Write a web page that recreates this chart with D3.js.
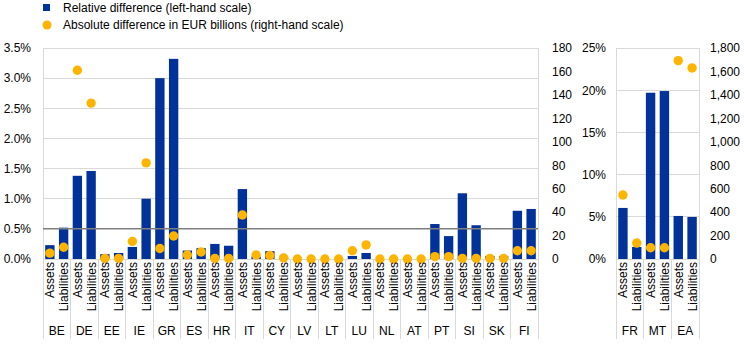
<!DOCTYPE html>
<html>
<head>
<meta charset="utf-8">
<script src="https://cdn.jsdelivr.net/npm/d3@7"></script>
<style>
  body { margin: 0; background: #fff; }
  svg { display: block; font-family: "Liberation Sans", Arial, sans-serif; }
</style>
</head>
<body>
<svg id="chart" width="744" height="360"></svg>
<script>
// ---- Data ----
const subCategories = ["Assets", "Liabilities"];

const countriesLeft = ["BE","DE","EE","IE","GR","ES","HR","IT","CY","LV","LT","LU","NL","AT","PT","SI","SK","FI"];
const relAssetsLeft = [0.23, 1.38, 0.08, 0.20, 3.00, 0.14, 0.25, 1.16, 0.13, 0.00, 0.00, 0.05, 0.00, 0.00, 0.58, 1.09, 0.05, 0.80];
const relLiabLeft   = [0.52, 1.46, 0.10, 1.00, 3.32, 0.18, 0.22, 0.04, 0.02, 0.00, 0.00, 0.10, 0.00, 0.00, 0.38, 0.56, 0.05, 0.83];
const absAssetsLeft = [5, 161, 0.5, 15, 9, 3.4, 0.5, 37.5, 3, 0, 0, 7, 0, 0, 2, 0.5, 0.5, 7];
const absLiabLeft   = [10, 133, 0.5, 82, 19.6, 6, 0.5, 3.4, 1, 0, 0, 12, 0, 0, 2, 0.5, 0.5, 7];

const countriesRight = ["FR","MT","EA"];
const relAssetsRight = [6.05, 19.7, 5.1];
const relLiabRight   = [1.42, 19.9, 4.98];
const absAssetsRight = [546, 96, 1692];
const absLiabRight   = [136, 96, 1630];

const leftTicksRel  = [0, 0.5, 1.0, 1.5, 2.0, 2.5, 3.0, 3.5];
const leftTicksAbs  = [0, 20, 40, 60, 80, 100, 120, 140, 160, 180];
const rightTicksRel = [0, 5, 10, 15, 20, 25];
const rightTicksAbs = [0, 200, 400, 600, 800, 1000, 1200, 1400, 1600, 1800];
const thresholdRel = 0.5;

const legendItems = ["Relative difference (left-hand scale)", "Absolute difference in EUR billions (right-hand scale)"];

// ---- Styles ----
const BLUE = "#003299", YELLOW = "#FFB400", GRID = "#d9d9d9", TEXT = "#000";
const svg = d3.select("#chart");
const yTop = 48, yBottom = 259, yLabelBottom = 339;

function panel(opts) {
  const { x0, x1, countries, relA, relL, absA, absL, relMax, absMax, relTicks, absTicks,
          relFmt, absFmt, leftLabelX, rightLabelX, threshold } = opts;
  const g = svg.append("g");
  const x = d3.scaleBand().domain(countries).range([x0, x1]).padding(0);
  const xs = d3.scaleBand().domain(subCategories).range([0, x.bandwidth()]).paddingInner(0.32).paddingOuter(0.16);
  const yRel = d3.scaleLinear().domain([0, relMax]).range([yBottom, yTop]);
  const yAbs = d3.scaleLinear().domain([0, absMax]).range([yBottom, yTop]);

  // gridlines
  g.append("g").selectAll("line").data(relTicks).join("line")
    .attr("x1", x0).attr("x2", x1)
    .attr("y1", d => yRel(d)).attr("y2", d => yRel(d))
    .attr("stroke", GRID).attr("stroke-width", 1).attr("shape-rendering", "crispEdges");

  // vertical borders & separators
  const bounds = countries.map(c => x(c)).concat([x1]);
  g.append("g").selectAll("line").data(bounds).join("line")
    .attr("x1", d => d).attr("x2", d => d)
    .attr("y1", (d, i) => (i === 0 || i === bounds.length - 1) ? yTop : yBottom)
    .attr("y2", yLabelBottom)
    .attr("stroke", GRID).attr("stroke-width", 1).attr("shape-rendering", "crispEdges");

  // data rows
  const rows = countries.map((c, i) => [
    { c, s: "Assets", rel: relA[i], abs: absA[i] },
    { c, s: "Liabilities", rel: relL[i], abs: absL[i] }
  ]).flat();

  // bars
  g.append("g").selectAll("rect").data(rows).join("rect")
    .attr("x", d => x(d.c) + xs(d.s))
    .attr("width", xs.bandwidth())
    .attr("y", d => yRel(d.rel))
    .attr("height", d => yBottom - yRel(d.rel))
    .attr("fill", BLUE);

  // threshold line
  if (threshold !== undefined) {
    g.append("line")
      .attr("x1", x0).attr("x2", x1)
      .attr("y1", yRel(threshold)).attr("y2", yRel(threshold))
      .attr("stroke", "#7f7f7f").attr("stroke-width", 1.5);
  }

  // dots
  g.append("g").selectAll("circle").data(rows).join("circle")
    .attr("cx", d => x(d.c) + xs(d.s) + xs.bandwidth() / 2)
    .attr("cy", d => yAbs(d.abs))
    .attr("r", 4.7)
    .attr("fill", YELLOW);

  // left axis labels
  const axL = d3.axisLeft(yRel).tickValues(relTicks).tickFormat(relFmt).tickSize(0).tickPadding(0);
  const gl = g.append("g").attr("transform", `translate(${leftLabelX},0)`).call(axL);
  gl.select(".domain").remove();
  gl.selectAll("text").attr("font-size", 12).attr("fill", TEXT).attr("font-family", "Liberation Sans, Arial, sans-serif");

  // right axis labels
  const axR = d3.axisRight(yAbs).tickValues(absTicks).tickFormat(absFmt).tickSize(0).tickPadding(0);
  const gr = g.append("g").attr("transform", `translate(${rightLabelX},0)`).call(axR);
  gr.select(".domain").remove();
  gr.selectAll("text").attr("font-size", 12).attr("fill", TEXT).attr("font-family", "Liberation Sans, Arial, sans-serif");

  // sub-category labels (rotated)
  g.append("g").selectAll("text").data(rows).join("text")
    .attr("transform", d => `translate(${x(d.c) + xs(d.s) + xs.bandwidth() / 2 + 4.5},${yBottom + 3}) rotate(-90)`)
    .attr("text-anchor", "end")
    .attr("font-size", 12).attr("fill", TEXT)
    .text(d => d.s);

  // country labels
  g.append("g").selectAll("text").data(countries).join("text")
    .attr("x", d => x(d) + x.bandwidth() / 2)
    .attr("y", 335)
    .attr("text-anchor", "middle")
    .attr("font-size", 12).attr("fill", TEXT)
    .text(d => d);
}

panel({
  x0: 43, x1: 538, countries: countriesLeft,
  relA: relAssetsLeft, relL: relLiabLeft, absA: absAssetsLeft, absL: absLiabLeft,
  relMax: 3.5, absMax: 180, relTicks: leftTicksRel, absTicks: leftTicksAbs,
  relFmt: d => d3.format(".1f")(d) + "%", absFmt: d3.format(","),
  leftLabelX: 31, rightLabelX: 552, threshold: thresholdRel
});

panel({
  x0: 616, x1: 699, countries: countriesRight,
  relA: relAssetsRight, relL: relLiabRight, absA: absAssetsRight, absL: absLiabRight,
  relMax: 25, absMax: 1800, relTicks: rightTicksRel, absTicks: rightTicksAbs,
  relFmt: d => d + "%", absFmt: d3.format(","),
  leftLabelX: 606, rightLabelX: 710
});

// legend
const lg = svg.append("g");
lg.append("rect").attr("x", 43).attr("y", 4).attr("width", 7).attr("height", 7).attr("fill", BLUE);
lg.append("circle").attr("cx", 47).attr("cy", 25).attr("r", 4.5).attr("fill", YELLOW);
lg.selectAll("text").data(legendItems).join("text")
  .attr("x", 63).attr("y", (d, i) => 12 + i * 17)
  .attr("font-size", 12).attr("fill", TEXT)
  .text(d => d);
</script>
</body>
</html>
